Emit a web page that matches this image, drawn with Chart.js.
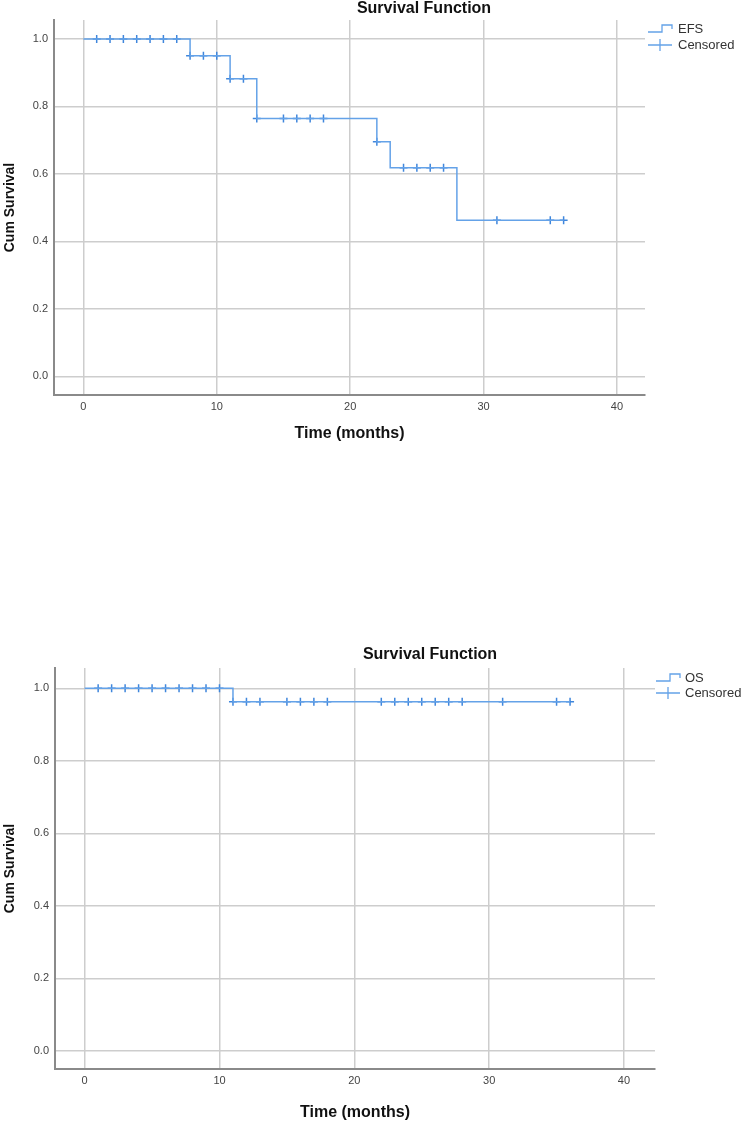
<!DOCTYPE html>
<html><head><meta charset="utf-8">
<script src="https://cdn.jsdelivr.net/npm/chart.js@4.4.1/dist/chart.umd.min.js"></script>
<style>
html,body{margin:0;padding:0;background:#fff;}
body{width:744px;height:1123px;position:relative;overflow:hidden;}
.wrap{position:absolute;left:0;width:744px;}
#w1{top:0;height:460px;}
#w2{top:620px;height:503px;}
canvas{display:block;}
</style></head><body>
<div class="wrap" id="w1"><canvas id="c1" width="744" height="460"></canvas></div>
<div class="wrap" id="w2"><canvas id="c2" width="744" height="503"></canvas></div>
<script>
// ---- data ----
const efsTimes = [0, 8, 11, 13, 22, 23, 28, 36];
const efsSurv  = [1.0, 0.950, 0.882, 0.764, 0.695, 0.618, 0.463, 0.463];
const efsCensTimes = [1, 2, 3, 4, 5, 6, 7, 8, 9, 10, 11, 12, 13, 15, 16, 17, 18, 22, 24, 25, 26, 27, 31, 35, 36];
const efsCensSurv  = [1, 1, 1, 1, 1, 1, 1, 0.950, 0.950, 0.950, 0.882, 0.882, 0.764, 0.764, 0.764, 0.764, 0.764, 0.695, 0.618, 0.618, 0.618, 0.618, 0.463, 0.463, 0.463];

const osTimes = [0, 11, 36];
const osSurv  = [1.0, 0.963, 0.963];
const osCensTimes = [1, 2, 3, 4, 5, 6, 7, 8, 9, 10, 11, 12, 13, 15, 16, 17, 18, 22, 23, 24, 25, 26, 27, 28, 31, 35, 36];
const osCensSurv  = [1, 1, 1, 1, 1, 1, 1, 1, 1, 1, 0.963, 0.963, 0.963, 0.963, 0.963, 0.963, 0.963, 0.963, 0.963, 0.963, 0.963, 0.963, 0.963, 0.963, 0.963, 0.963, 0.963];

const xTickValues = [0, 10, 20, 30, 40];
const yTickValues = [0.0, 0.2, 0.4, 0.6, 0.8, 1.0];

const chartTitle = 'Survival Function';
const xTitle = 'Time (months)';
const yTitle = 'Cum Survival';
const censLabel = 'Censored';

// ---- styles ----
const LINE = '#64a2e8';
const MARK = '#3f86dc';
const GRID = '#cdcdcd';
const AXIS = '#8a8a8a';
const SANS = '"Liberation Sans", Arial, sans-serif';

function pts(xs, ys) { return xs.map((x, i) => ({x: x, y: ys[i]})); }

const overlay = {
  id: 'overlay',
  afterDraw(chart, args, o) {
    const ctx = chart.ctx;
    ctx.save();
    ctx.fillStyle = '#111';
    ctx.font = 'bold 16px ' + SANS;
    ctx.textAlign = 'center';
    ctx.textBaseline = 'middle';
    ctx.fillText(o.title, o.titleX, o.titleY);
    const lx = o.legX, y1 = o.legY1, y2 = o.legY2;
    ctx.lineWidth = 1.3;
    ctx.strokeStyle = LINE;
    ctx.beginPath();
    ctx.moveTo(lx, y1 + 3); ctx.lineTo(lx + 14, y1 + 3); ctx.lineTo(lx + 14, y1 - 4);
    ctx.lineTo(lx + 24, y1 - 4); ctx.lineTo(lx + 24, y1);
    ctx.stroke();
    ctx.beginPath();
    ctx.moveTo(lx, y2); ctx.lineTo(lx + 24, y2);
    ctx.moveTo(lx + 12, y2 - 6); ctx.lineTo(lx + 12, y2 + 6);
    ctx.stroke();
    ctx.fillStyle = '#333';
    ctx.font = '13px ' + SANS;
    ctx.textAlign = 'left';
    ctx.fillText(chart.data.datasets[0].label, o.legTextX, y1);
    ctx.fillText(chart.data.datasets[1].label, o.legTextX, y2);
    ctx.restore();
  }
};

function makeChart(id, label, times, surv, cTimes, cSurv, g) {
  return new Chart(document.getElementById(id), {
    type: 'scatter',
    data: {
      datasets: [
        { label: label, data: pts(times, surv), showLine: true, stepped: 'before',
          borderColor: LINE, borderWidth: 1.5, pointRadius: 0, fill: false },
        { label: censLabel, data: pts(cTimes, cSurv), showLine: false,
          pointStyle: 'cross', pointRadius: 4, borderColor: MARK, borderWidth: 1.5, backgroundColor: MARK }
      ]
    },
    options: {
      responsive: false,
      animation: false,
      events: [],
      layout: { padding: { left: 0, top: g.top, right: g.right, bottom: 0 } },
      plugins: {
        legend: { display: false },
        tooltip: { enabled: false },
        overlay: g.overlay
      },
      scales: {
        x: {
          type: 'linear', min: -2.2, max: g.xmax,
          afterFit(s) { s.height = g.xh; },
          afterBuildTicks(s) { s.ticks = xTickValues.map(v => ({value: v})); },
          ticks: { padding: 5, color: '#444', font: { family: SANS, size: 11 }, callback: v => String(v), maxRotation: 0 },
          grid: { color: GRID, lineWidth: 1.5, drawTicks: false },
          border: { color: AXIS, width: 2 },
          title: { display: true, text: xTitle, color: '#111', font: { family: SANS, size: 16, weight: 'bold' }, padding: { top: 0, bottom: g.xtp } }
        },
        y: {
          type: 'linear', min: g.ymin, max: 1.056,
          afterFit(s) { s.width = g.yw; },
          afterBuildTicks(s) { s.ticks = yTickValues.map(v => ({value: v})); },
          ticks: { padding: 6, color: '#444', font: { family: SANS, size: 11 }, callback: v => Number(v).toFixed(1) },
          grid: { color: GRID, lineWidth: 1.5, drawTicks: false },
          border: { color: AXIS, width: 2 },
          title: { display: true, text: yTitle, color: '#111', font: { family: SANS, size: 14, weight: 'bold' }, padding: { top: 2, bottom: 0 } }
        }
      }
    },
    plugins: [overlay]
  });
}

makeChart('c1', 'EFS', efsTimes, efsSurv, efsCensTimes, efsCensSurv, {
  top: 20, right: 99, xh: 65, yw: 54, xmax: 42.1, ymin: -0.055, xtp: 17,
  overlay: { title: chartTitle, titleX: 424, titleY: 9, legX: 648, legY1: 29, legY2: 45, legTextX: 678 }
});
makeChart('c2', 'OS', osTimes, osSurv, osCensTimes, osCensSurv, {
  top: 48, right: 89, xh: 54, yw: 55, xmax: 42.3, ymin: -0.05, xtp: 1,
  overlay: { title: chartTitle, titleX: 430, titleY: 35, legX: 656, legY1: 58, legY2: 73, legTextX: 685 }
});
</script>
</body></html>
